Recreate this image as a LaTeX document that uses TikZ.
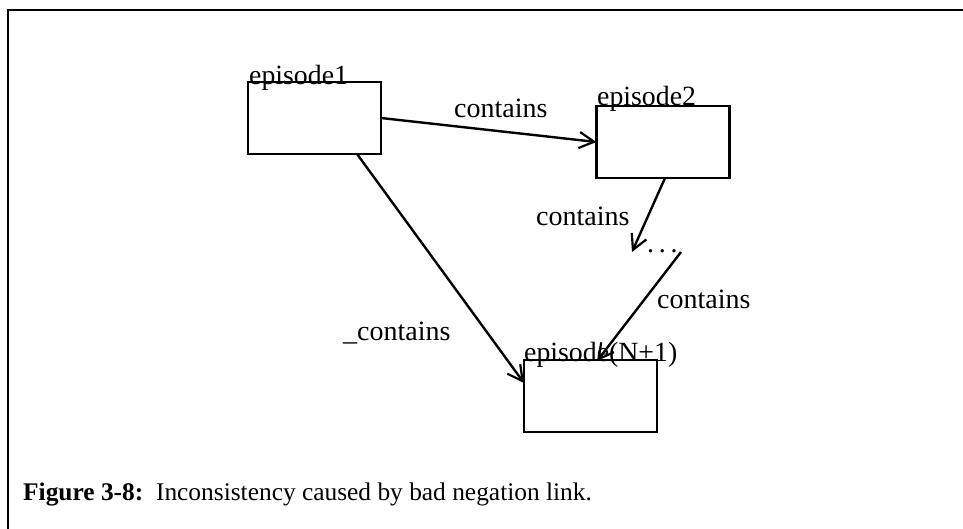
\documentclass[tikz,border=0pt]{standalone}
\usepackage{fontspec}
\setmainfont{Liberation Serif}
\usetikzlibrary{arrows.meta}
\begin{document}
\begin{tikzpicture}[x=1pt,y=-1pt,
  line width=2.4pt,
  epbox/.style={draw,rectangle,minimum width=133pt,minimum height=72pt,inner sep=0pt,outer sep=0pt},
  eplabel/.style={anchor=base west,inner sep=0pt,font=\fontsize{27.8}{32}\selectfont},
  linklabel/.style={anchor=base west,inner sep=0pt,font=\fontsize{28}{32}\selectfont},
  link/.style={-{Straight Barb[length=15pt,width=16pt,line width=2.2pt]}}]
\useasboundingbox (0,0) rectangle (963,529);
% frame
\draw[line width=2.6pt] (963,10) -- (8,10) -- (8,529);
% boxes
\node[epbox] (e1) at (314.5,118) {};
\node[epbox] (e2) at (663,142) {};
\node[epbox] (eN) at (590.5,396) {};
% box titles
\node[eplabel] (t1) at (248,85) {episode1};
\node[eplabel] (t2) at (596,106) {episode2};
\node[eplabel] (tN) at (523,361) {episode(N+1)};
% dots
\node[linklabel] (dots) at (646,252) {.\,.\,.};
\coordinate (d1) at (632,252);
\coordinate (d2) at (681,252);
\coordinate (s2) at (665,178);
\coordinate (s4) at (357,154);
\coordinate (eNtop) at (597,361);
\coordinate (eNwest) at (524,383);
% connectors
\draw[link] (e1.east) -- (e2.west);
\draw[link] (s2) -- (d1);
\draw[link] (d2) -- (eNtop);
\draw[link] (s4) -- (eNwest);
% link labels
\node[linklabel] (l1) at (453,118) {contains};
\node[linklabel] (l2) at (535,226) {contains};
\node[linklabel] (l3) at (656,308) {contains};
\node[linklabel] (l4) at (342,340) {\_contains};
% caption
\node[anchor=base west,inner sep=0pt,font=\fontsize{25.4}{30}\selectfont] (cap) at (22,500) {\textbf{Figure 3-8:}\ \ Inconsistency caused by bad negation link.};
\end{tikzpicture}
\end{document}
